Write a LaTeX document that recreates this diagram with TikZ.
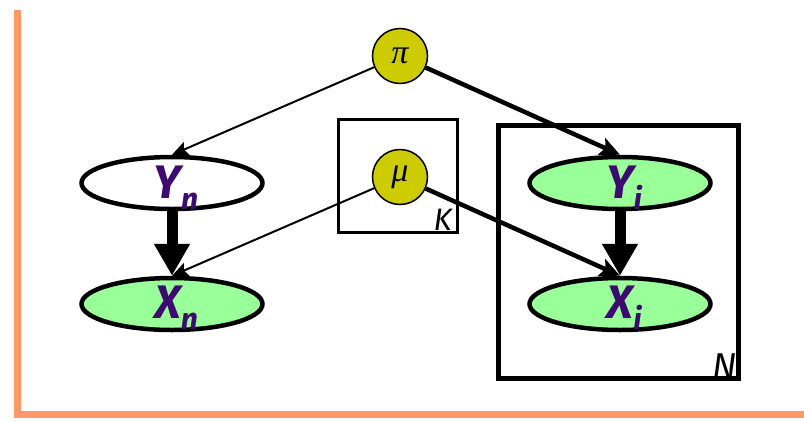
\documentclass[tikz,border=0pt]{standalone}
\usepackage{fontspec}
\setsansfont{Fira Sans}
\newfontfamily\greekfont{Liberation Serif}
\usetikzlibrary{shapes.geometric,arrows.meta}
\definecolor{orangeframe}{HTML}{FF9966}
\definecolor{nodegreen}{HTML}{99FF99}
\definecolor{paramyellow}{HTML}{CCCC00}
\definecolor{varpurple}{HTML}{3D0A70}
\newcommand{\subtxt}[1]{\raisebox{-11pt}{\fontsize{30}{30}\selectfont #1}}
\tikzset{
  varnode/.style={ellipse, draw=black, line width=4.5pt, minimum width=181pt, minimum height=52pt, inner sep=0pt},
  obsnode/.style={varnode, fill=nodegreen},
  hidnode/.style={varnode, fill=white},
  paramnode/.style={circle, draw=black, line width=1.5pt, fill=paramyellow, minimum size=55pt, inner sep=0pt, font=\greekfont\itshape\fontsize{34}{34}\selectfont},
  vartext/.style={text=varpurple, font=\sffamily\bfseries\itshape\fontsize{47}{47}\selectfont, inner sep=0pt},
  platebox/.style={draw=black, line width=3pt},
  plateN/.style={draw=black, line width=5pt},
  platelabel/.style={font=\sffamily\itshape, inner sep=0pt, anchor=south east},
  thinarrow/.style={line width=2pt, -{Stealth[width=14pt,length=16pt,inset=3pt]}},
  thickarrow/.style={line width=4.5pt, -{Stealth[width=18pt,length=20pt,inset=4pt]}},
  bigarrow/.style={line width=11pt, -{Triangle[width=34pt,length=32pt]}, shorten <=-1pt}
}
\begin{document}
\begin{tikzpicture}[x=1pt,y=-1pt]
\useasboundingbox (0,0) rectangle (804,421);
% orange frame
\fill[orangeframe] (14,10) rectangle (21,418);
\fill[orangeframe] (14,411) rectangle (804,418);
% plates
\draw[platebox] (338.5,119.5) rectangle (457.5,232.5);
\draw[plateN] (498.5,125.5) rectangle (738.5,378.5);
\node[platelabel, font=\sffamily\itshape\fontsize{31}{31}\selectfont] (Klab) at (452,231) {K};
\node[platelabel, font=\sffamily\itshape\fontsize{36}{36}\selectfont] (Nlab) at (737,379) {N};
% variable nodes
\node[hidnode] (Yn) at (172,183) {};
\node[obsnode] (Xn) at (172,304) {};
\node[obsnode] (Yi) at (620,183) {};
\node[obsnode] (Xi) at (620,304) {};
\node[vartext] (Ynt) at (176,188) {Y\subtxt{n}};
\node[vartext] (Xnt) at (176,308) {X\subtxt{n}};
\node[vartext] (Yit) at (624,188) {Y\subtxt{i}};
\node[vartext] (Xit) at (624,308) {X\subtxt{i}};
% parameters
\node[paramnode] (pi) at (400,56) {π};
\node[paramnode] (mu) at (400,177) {\raisebox{-3pt}{μ}};
% edges
\draw[thinarrow] (pi) -- (Yn.north);
\draw[thickarrow] (pi) -- (Yi.north);
\draw[thinarrow] (mu) -- (Xn.north);
\draw[thickarrow] (mu) -- (Xi.north);
\draw[bigarrow] (Yn.south) -- (Xn.north);
\draw[bigarrow] (Yi.south) -- (Xi.north);
\end{tikzpicture}
\end{document}
